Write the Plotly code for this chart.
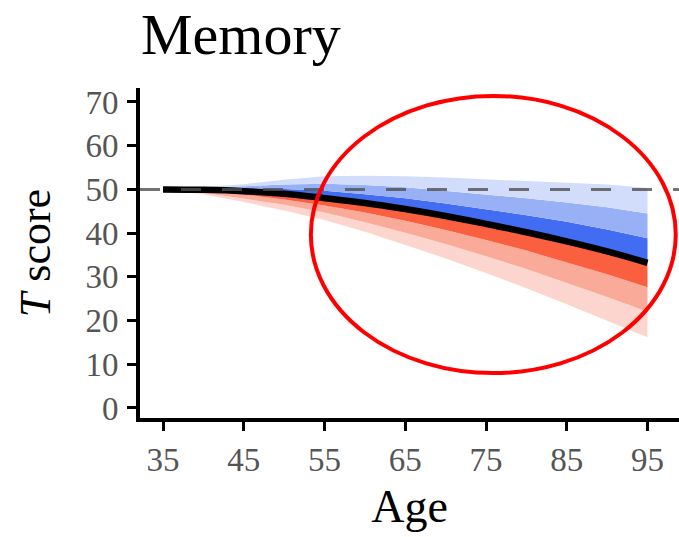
import plotly.graph_objects as go

AGES = [35, 40, 45, 50, 55, 60, 65, 70, 75, 80, 85, 90, 95]
MEDIAN = [50.0, 49.9, 49.6, 49.0, 48.0, 46.9, 45.5, 43.9, 42.1, 40.2, 38.1, 35.8, 33.2]

UPPER_OUTER = [50.0, 50.6, 51.2, 52.2, 53.0, 53.1, 53.0, 52.7, 52.3, 52.0, 51.6, 51.1, 50.3]
UPPER_MID = [50.0, 50.4, 50.7, 51.1, 51.3, 51.0, 50.5, 49.7, 48.8, 48.0, 47.0, 45.9, 44.5]
UPPER_INNER = [50.0, 50.1, 50.1, 50.1, 49.7, 48.9, 48.0, 46.8, 45.5, 44.1, 42.6, 40.8, 38.8]

LOWER_INNER = [50.0, 49.6, 48.8, 47.7, 46.3, 44.7, 42.8, 40.7, 38.4, 36.0, 33.3, 30.6, 27.6]
LOWER_MID = [50.0, 49.2, 47.9, 46.5, 44.7, 42.5, 40.1, 37.5, 34.7, 31.8, 28.6, 25.4, 22.0]
LOWER_OUTER = [50.0, 48.9, 47.1, 45.2, 43.0, 40.3, 37.3, 34.2, 30.9, 27.4, 23.7, 20.0, 16.2]

REFERENCE_T = 50
X_TICKS = [35, 45, 55, 65, 75, 85, 95]
Y_TICKS = [0, 10, 20, 30, 40, 50, 60, 70]

FONT = "Liberation Serif"

# (values, fill colour of band down to the previous trace)
BANDS = [
    (LOWER_OUTER, None),
    (LOWER_MID, "rgb(252,214,206)"),
    (LOWER_INNER, "rgb(249,170,152)"),
    (MEDIAN, "rgb(250,96,64)"),
    (UPPER_INNER, "rgb(66,108,242)"),
    (UPPER_MID, "rgb(152,176,246)"),
    (UPPER_OUTER, "rgb(210,221,251)"),
]


def main():
    fig = go.Figure()

    for values, color in BANDS:
        fig.add_trace(
            go.Scatter(
                x=AGES,
                y=values,
                mode="lines",
                line=dict(width=0),
                fill="tonexty" if color else None,
                fillcolor=color,
                hoverinfo="skip",
                showlegend=False,
            )
        )

    fig.add_trace(
        go.Scatter(
            x=AGES,
            y=MEDIAN,
            mode="lines",
            line=dict(color="black", width=6.5, shape="spline"),
            showlegend=False,
        )
    )

    fig.add_shape(
        type="line",
        xref="x domain",
        yref="y",
        x0=0,
        x1=1,
        y0=REFERENCE_T,
        y1=REFERENCE_T,
        line=dict(color="rgba(80,80,80,0.8)", width=3, dash="20px,21px"),
        layer="above",
    )

    # red ellipse highlighting the older ages
    fig.add_shape(
        type="circle",
        xref="paper",
        yref="paper",
        x0=0.317,
        x1=0.994,
        y0=0.136,
        y1=0.976,
        line=dict(color="#ff0000", width=4),
        layer="above",
    )

    axis_common = dict(
        showline=True,
        linecolor="black",
        linewidth=4,
        ticks="outside",
        ticklen=9,
        tickwidth=3,
        tickcolor="black",
        showgrid=False,
        zeroline=False,
        automargin=False,
        tickfont=dict(family=FONT, size=33, color="#555555"),
    )

    fig.update_layout(
        width=679,
        height=537,
        margin=dict(l=140, r=0, t=88, b=119),
        paper_bgcolor="white",
        plot_bgcolor="white",
        title=dict(
            text="Memory",
            font=dict(family=FONT, size=58, color="black"),
            x=141 / 679,
            xanchor="left",
            y=1 - 54 / 537,
            yanchor="bottom",
            yref="container",
            automargin=False,
        ),
        xaxis=dict(
            axis_common,
            range=[32.15, 98.9],
            tickvals=X_TICKS,
            title=dict(text="Age", font=dict(family=FONT, size=46, color="black"), standoff=14),
        ),
        yaxis=dict(
            axis_common,
            range=[-2.3, 73.2],
            tickvals=Y_TICKS,
            ticklabelstandoff=2,
            title=dict(text="<i>T</i> score", font=dict(family=FONT, size=44, color="black"), standoff=22),
        ),
    )

    # drop the browser's default page margin so the figure sits at the corner
    fig.write_html(
        "out.html",
        config={"displayModeBar": False},
        post_script="document.body.style.margin='0';document.body.style.overflow='hidden';",
    )


if __name__ == "__main__":
    main()
